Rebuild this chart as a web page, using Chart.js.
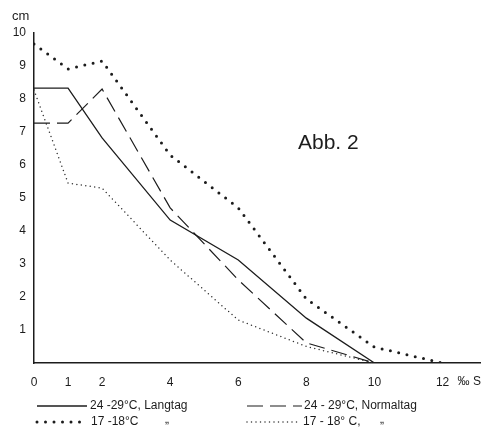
<!DOCTYPE html>
<html>
<head>
<meta charset="utf-8">
<script src="https://cdn.jsdelivr.net/npm/chart.js@4"></script>
<style>
  html, body { margin: 0; padding: 0; background: #fff; }
  #wrap { width: 487px; height: 442px; position: relative; }
</style>
</head>
<body>
<div id="wrap"><canvas id="growthChart"></canvas></div>
<script>
  // salinity (‰ S) on x, length (cm) on y
  const xTicks = [0, 1, 2, 4, 6, 8, 10, 12];
  const yTicks = [1, 2, 3, 4, 5, 6, 7, 8, 9, 10];

  const warmLongX = [0, 1, 2, 4, 6, 8, 10];
  const warmLongY = [8.33, 8.33, 6.82, 4.33, 3.12, 1.36, 0];

  const warmNormX = [0, 1, 2, 4, 6, 8, 10];
  const warmNormY = [7.27, 7.27, 8.3, 4.7, 2.52, 0.61, 0];

  const coolLongX = [0, 1, 2, 4, 6, 8, 10, 12];
  const coolLongY = [9.67, 8.91, 9.15, 6.3, 4.7, 1.94, 0.48, 0];

  const coolNormX = [0, 1, 2, 4, 6, 8, 10];
  const coolNormY = [8.27, 5.45, 5.3, 3.12, 1.3, 0.5, 0];

  const ink = '#1c1c1c';
  const font = '"Liberation Sans", Arial, sans-serif';

  const toPoints = (xs, ys) => xs.map((x, i) => ({ x: x, y: ys[i] }));

  const datasets = [
    { label: '24 -29°C, Langtag', data: toPoints(warmLongX, warmLongY),
      borderColor: ink, borderWidth: 1.3, borderDash: [] },
    { label: '24 - 29°C, Normaltag', data: toPoints(warmNormX, warmNormY),
      borderColor: ink, borderWidth: 1.2, borderDash: [16, 7] },
    { label: '17 -18°C', data: toPoints(coolLongX, coolLongY),
      borderColor: ink, borderWidth: 3, borderDash: [0, 8.5], borderCapStyle: 'round' },
    { label: '17 - 18° C,', data: toPoints(coolNormX, coolNormY),
      borderColor: '#333', borderWidth: 1.5, borderDash: [0, 4.5], borderCapStyle: 'round' }
  ];
  datasets.forEach(d => {
    d.pointRadius = 0;
    d.tension = 0;
    d.fill = false;
  });

  // legend rows under the axis: [dataset index, line from, line to, y, text x, ditto x]
  const legendRows = [
    [0, 37, 87, 406, 90, null],
    [1, 247, 302, 406, 304, null],
    [2, 37, 88, 422, 91, 165],
    [3, 247, 300, 422, 303, 380]
  ];

  const extras = {
    id: 'extras',
    afterDraw(chart) {
      const ctx = chart.ctx;
      const xs = chart.scales.x;
      ctx.save();
      ctx.fillStyle = ink;
      ctx.textBaseline = 'middle';
      ctx.textAlign = 'left';

      ctx.font = '13px ' + font;
      ctx.fillText('cm', 12, 16);

      ctx.font = '21px ' + font;
      ctx.fillText('Abb. 2', 298, 143);

      ctx.font = '12px ' + font;
      ctx.fillText('‰ S', xs.getPixelForValue(12) + 15, 382);

      legendRows.forEach(r => {
        const ds = chart.data.datasets[r[0]];
        ctx.save();
        ctx.strokeStyle = ds.borderColor;
        ctx.lineWidth = ds.borderWidth;
        ctx.lineCap = ds.borderCapStyle || 'butt';
        ctx.setLineDash(ds.borderDash);
        ctx.beginPath();
        ctx.moveTo(r[1], r[3]);
        ctx.lineTo(r[2], r[3]);
        ctx.stroke();
        ctx.restore();
        ctx.fillText(ds.label, r[4], r[3]);
        if (r[5] !== null) ctx.fillText('„', r[5], r[3] - 2);
      });
      ctx.restore();
    }
  };

  new Chart(document.getElementById('growthChart'), {
    type: 'line',
    data: { datasets: datasets },
    options: {
      responsive: true,
      maintainAspectRatio: false,
      animation: false,
      layout: { padding: { top: 33, right: 7, left: 0, bottom: 0 } },
      plugins: {
        legend: { display: false },
        tooltip: { enabled: false }
      },
      scales: {
        x: {
          type: 'linear',
          min: 0,
          max: 13.1,
          grid: { display: false, drawTicks: false },
          border: { display: true, color: ink, width: 1.5 },
          ticks: { color: ink, font: { family: font, size: 12 }, padding: 12, autoSkip: false, maxRotation: 0 },
          afterBuildTicks: s => { s.ticks = xTicks.map(v => ({ value: v })); },
          afterFit: s => { s.height = 79; }
        },
        y: {
          min: 0,
          max: 10,
          grid: { display: false, drawTicks: false },
          border: { display: true, color: ink, width: 1.5 },
          ticks: { color: ink, font: { family: font, size: 12 }, padding: 8, autoSkip: false },
          afterBuildTicks: s => { s.ticks = yTicks.map(v => ({ value: v })); },
          afterFit: s => { s.width = 34; }
        }
      }
    },
    plugins: [extras]
  });
</script>
</body>
</html>
